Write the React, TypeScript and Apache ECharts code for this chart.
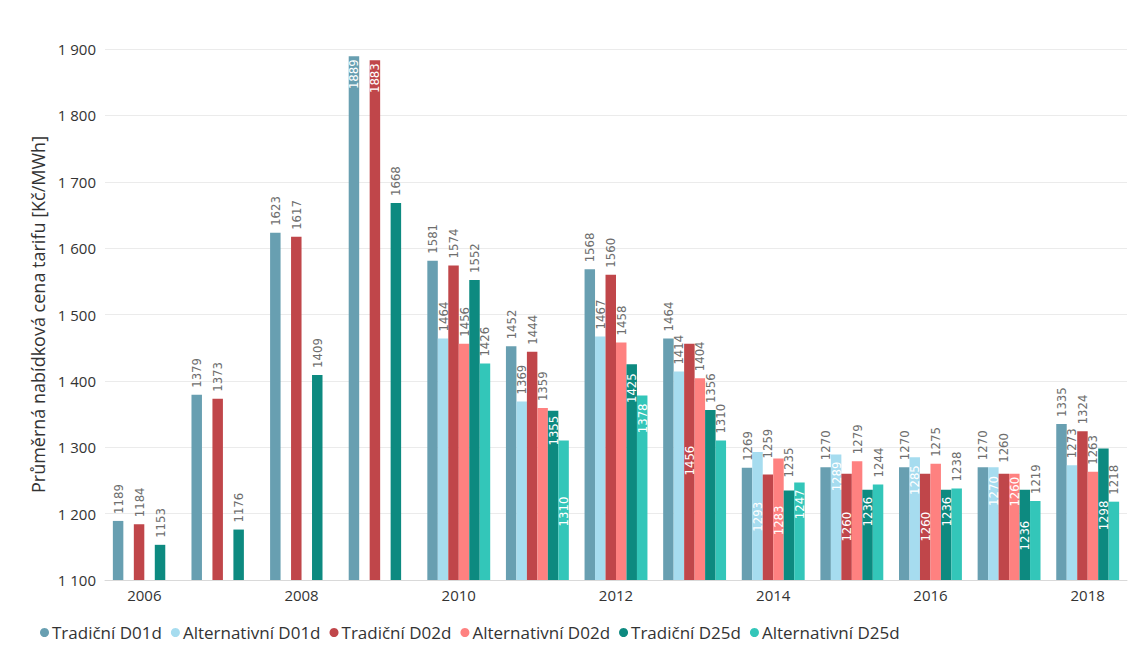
import React, { useEffect, useRef } from "react";
import * as echarts from "echarts";

const years = ["2006", "2007", "2008", "2009", "2010", "2011", "2012", "2013", "2014", "2015", "2016", "2017", "2018"];
const seriesNames = ["Tradiční D01d", "Alternativní D01d", "Tradiční D02d", "Alternativní D02d", "Tradiční D25d", "Alternativní D25d"];
const tradD01d = [1189, 1379, 1623, 1889, 1581, 1452, 1568, 1464, 1269, 1270, 1270, 1270, 1335];
const altD01d = [null, null, null, null, 1464, 1369, 1467, 1414, 1293, 1289, 1285, 1270, 1273];
const tradD02d = [1184, 1373, 1617, 1883, 1574, 1444, 1560, 1456, 1259, 1260, 1260, 1260, 1324];
const altD02d = [null, null, null, null, 1456, 1359, 1458, 1404, 1283, 1279, 1275, 1260, 1263];
const tradD25d = [1153, 1176, 1409, 1668, 1552, 1355, 1425, 1356, 1235, 1236, 1236, 1236, 1298];
const altD25d = [null, null, null, null, 1426, 1310, 1378, 1310, 1247, 1244, 1238, 1219, 1218];
const allSeries = [tradD01d, altD01d, tradD02d, altD02d, tradD25d, altD25d];
const colors = ["#689fb1", "#a6dcef", "#c0464a", "#fe8180", "#0d8a80", "#33c6b9"];

// label placement: inside labels (pixel offset below bar top), extra outside distance
const insideLabels: Record<string, number> = {
  "2009-0": 3, "2009-2": 3,
  "2011-4": 5, "2011-5": 56,
  "2012-4": 9, "2012-5": 8,
  "2013-2": 102,
  "2014-1": 50, "2014-3": 47, "2014-5": 7,
  "2015-1": 7, "2015-2": 38, "2015-4": 7,
  "2016-1": 8, "2016-2": 38, "2016-4": 7,
  "2017-1": 9, "2017-3": 3, "2017-4": 31,
  "2018-4": 52,
};
const outsideDistance: Record<string, number> = { "2014-2": 16, "2014-4": 13, "2017-2": 11 };

const labelFont = "'DejaVu Sans Condensed', 'Liberation Sans Narrow', sans-serif";
const mainFont = "'Open Sans', 'Noto Sans', sans-serif";

export default function App() {
  const ref = useRef<HTMLDivElement>(null);
  useEffect(() => {
    document.body.style.margin = "0";
    const chart = echarts.init(ref.current!, null, { renderer: "svg" });
    const series = allSeries.map((arr, si) => ({
      name: seriesNames[si],
      type: "bar",
      barGap: "0%",
      barCategoryGap: "20%",
      itemStyle: { color: colors[si] },
      label: {
        show: true,
        position: "top",
        distance: 7,
        rotate: 90,
        align: "left",
        verticalAlign: "middle",
        color: "#6e6e6e",
        fontSize: 13,
        fontFamily: labelFont,
      },
      data: arr.map((v, i) => {
        const key = `${years[i]}-${si}`;
        if (v === null) return null;
        if (insideLabels[key] !== undefined) {
          return {
            value: v,
            label: {
              position: ["50%", insideLabels[key]],
              align: "right",
              verticalAlign: "middle",
              color: "#ffffff",
            },
          };
        }
        if (outsideDistance[key] !== undefined) {
          return { value: v, label: { distance: outsideDistance[key] } };
        }
        return v;
      }),
    }));
    chart.setOption({
      animation: false,
      color: colors,
      grid: { left: 105, right: 1, top: 49, bottom: 90, containLabel: false },
      legend: {
        left: 35,
        top: 619,
        icon: "circle",
        itemWidth: 9,
        itemHeight: 9,
        itemGap: 9,
        textStyle: { fontSize: 17, color: "#333", fontFamily: mainFont, padding: [0, 0, 0, -2] },
      },
      xAxis: {
        type: "category",
        data: years,
        axisTick: { show: false },
        axisLine: { lineStyle: { color: "#d9d9d9" } },
        axisLabel: { interval: 1, fontSize: 15, color: "#333", margin: 7, fontFamily: mainFont },
      },
      yAxis: {
        type: "value",
        min: 1100,
        max: 1900,
        interval: 100,
        name: "Průměrná nabídková cena tarifu [Kč/MWh]",
        nameLocation: "middle",
        nameGap: 46,
        nameTextStyle: { fontSize: 18, color: "#333", fontFamily: mainFont },
        axisLabel: {
          fontSize: 15,
          color: "#333",
          margin: 9,
          fontFamily: mainFont,
          formatter: (v: number) => String(v).replace(/\B(?=(\d{3})+(?!\d))/g, " "),
        },
        splitLine: { lineStyle: { color: "#ebebeb" } },
      },
      series,
    });
    return () => chart.dispose();
  }, []);
  return <div ref={ref} style={{ width: 1128, height: 670 }} />;
}
